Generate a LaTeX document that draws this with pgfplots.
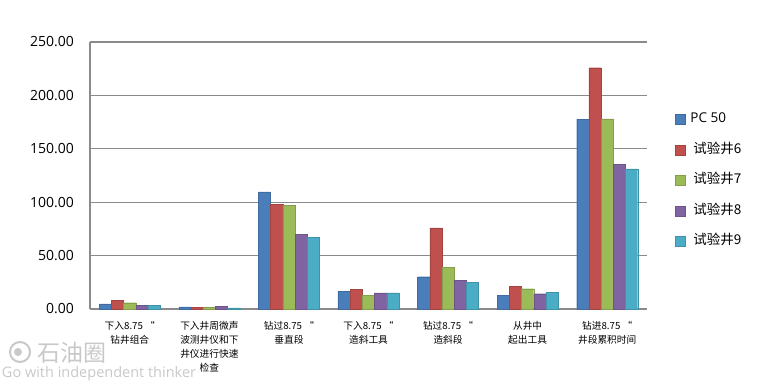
\documentclass[border=0pt]{standalone}
\usepackage{pgfplots}
\pgfplotsset{compat=1.18}
\usepackage{fontspec}
\setmainfont{Open Sans}
\newfontfamily\cjk{Noto Sans CJK SC}
\definecolor{c1}{HTML}{4A7EBB}
\definecolor{c2}{HTML}{C0504D}
\definecolor{c3}{HTML}{9BBB59}
\definecolor{c4}{HTML}{8064A2}
\definecolor{c5}{HTML}{4BACC6}
\definecolor{gridc}{HTML}{8A8A8A}
\definecolor{wm}{HTML}{C8C8C8}
\begin{document}
\begin{tikzpicture}
\path[use as bounding box] (-90pt,-79pt) rectangle (685pt,309pt);
\begin{axis}[
  at={(0pt,0pt)}, anchor=south west,
  scale only axis, width=557pt, height=267pt,
  ybar=0pt, bar width=12.2pt,
  xmin=-0.5, xmax=6.5, ymin=0, ymax=250,
  xtick={0,1,2,3,4,5,6},
  xticklabels={{下入8.75 “\\钻井组合},{下入井周微声\\波测井仪和下\\井仪进行快速\\检查},{钻过8.75 “\\垂直段},{下入8.75 “\\造斜工具},{钻过8.75 “\\造斜段},{从井中\\起出工具},{钻进8.75 “\\井段累积时间}},
  xticklabel style={font=\cjk\fontsize{9.7}{14}\selectfont, align=center, anchor=north, inner sep=0pt, yshift=-12pt},
  ytick={0,50,100,150,200,250},
  yticklabel style={font=\fontsize{14}{16}\selectfont, inner sep=0pt, xshift=-16pt},
  /pgf/number format/.cd, fixed, fixed zerofill, precision=2, assume math mode=true, /pgfplots/.cd,
  major tick length=0pt,
  axis x line*=bottom, axis y line*=left,
  axis line style={gridc, line width=1.3pt, -},
  ymajorgrids, grid style={gridc, line width=1.3pt},
  legend style={at={(1.05,0.735)}, anchor=north west, draw=none, fill=none, inner sep=0pt,
    row sep=17.5pt, font=\fontsize{13.5}{15}\selectfont,
    nodes={inner sep=0pt, text height=10pt, text depth=3pt, anchor=west}},
  legend cell align=left,
  legend image code/.code={\fill[#1] (0pt,-5pt) rectangle (10pt,5pt);},
]
\addplot[fill=c1, draw=c1!85!black, line width=0.4pt] coordinates {(0,4.7) (1,1.9) (2,109.6) (3,16.5) (4,30.2) (5,12.5) (6,177.8)};
\addlegendentry{\hspace*{5pt}PC 50}
\addplot[fill=c2, draw=c2!85!black, line width=0.4pt] coordinates {(0,8.1) (1,1.8) (2,98.1) (3,18.5) (4,76.0) (5,20.9) (6,225.9)};
\addlegendentry{\hspace*{8pt}{\cjk 试验井6}}
\addplot[fill=c3, draw=c3!85!black, line width=0.4pt] coordinates {(0,5.9) (1,1.8) (2,96.9) (3,12.8) (4,39.0) (5,19.0) (6,178.0)};
\addlegendentry{\hspace*{8pt}{\cjk 试验井7}}
\addplot[fill=c4, draw=c4!85!black, line width=0.4pt] coordinates {(0,3.4) (1,2.5) (2,70.1) (3,15.2) (4,27.0) (5,14.3) (6,135.5)};
\addlegendentry{\hspace*{8pt}{\cjk 试验井8}}
\addplot[fill=c5, draw=c5!85!black, line width=0.4pt] coordinates {(0,3.4) (1,1.0) (2,67.3) (3,15.2) (4,25.0) (5,15.9) (6,131.1)};
\addlegendentry{\hspace*{8pt}{\cjk 试验井9}}
\end{axis}
% watermark
\draw[wm, line width=2pt] (-70pt,-43pt) circle (10pt);
\fill[wm] (-72pt,-43pt) circle (4pt);
\node[wm, font=\cjk\fontsize{23}{25}\selectfont] at (-18pt,-44pt) {石油圈};
\node[wm, font=\fontsize{14.5}{16}\selectfont] at (9pt,-65pt) {Go with independent thinker};
\end{tikzpicture}
\end{document}
